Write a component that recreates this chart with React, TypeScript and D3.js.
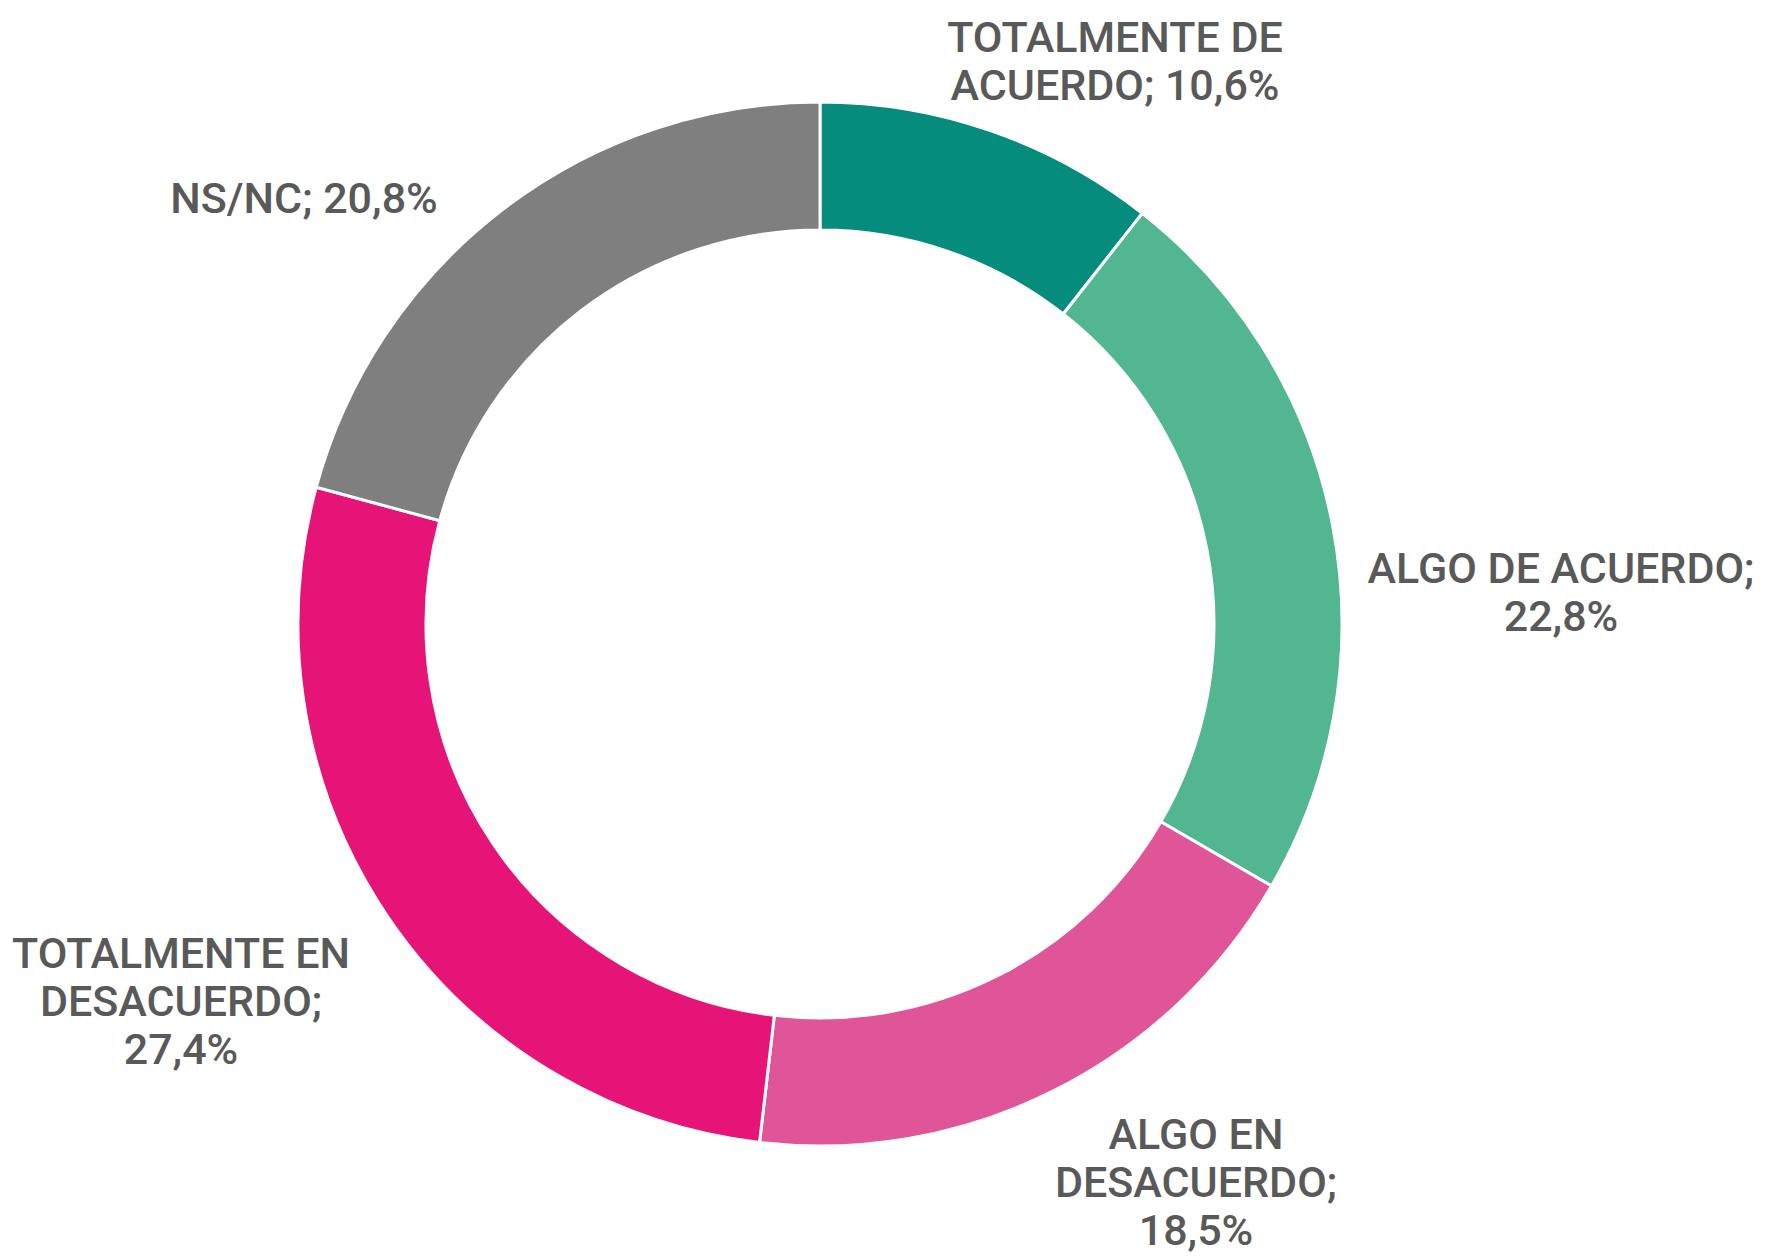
import React from "react";
import * as d3 from "d3";

const categories = [
  "TOTALMENTE DE ACUERDO",
  "ALGO DE ACUERDO",
  "ALGO EN DESACUERDO",
  "TOTALMENTE EN DESACUERDO",
  "NS/NC",
];
const values = [10.6, 22.8, 18.5, 27.4, 20.8];
const valueLabels = ["10,6%", "22,8%", "18,5%", "27,4%", "20,8%"];
const labelLines = [
  ["TOTALMENTE DE", "ACUERDO; 10,6%"],
  ["ALGO DE ACUERDO;", "22,8%"],
  ["ALGO EN", "DESACUERDO;", "18,5%"],
  ["TOTALMENTE EN", "DESACUERDO;", "27,4%"],
  ["NS/NC; 20,8%"],
];
const colors = ["#068C7C", "#52B690", "#E05498", "#E61477", "#7F7F7F"];

const W = 1765;
const H = 1257;
const CX = 820;
const CY = 624;
const R_OUT = 522;
const R_IN = 394;
const LINE_H = 48;

// label anchor: center x and first baseline y (layout only)
const labelAnchors = [
  { x: 1115, y: 52 },
  { x: 1561, y: 583 },
  { x: 1196, y: 1149 },
  { x: 181, y: 968 },
  { x: 304, y: 213 },
];

export default function App() {
  const data = categories.map((c, i) => ({ name: c, value: values[i], label: valueLabels[i] }));
  const pie = d3.pie<any>().value((d) => d.value).sort(null);
  const arcs = pie(data);
  const arc = d3.arc<any>().innerRadius(R_IN).outerRadius(R_OUT);

  return (
    <svg
      width={W}
      height={H}
      style={{ position: "absolute", left: 0, top: 0, background: "#fff" }}
      xmlns="http://www.w3.org/2000/svg"
    >
      <g transform={`translate(${CX},${CY})`}>
        {arcs.map((a, i) => (
          <path key={i} d={arc(a) as string} fill={colors[i]} stroke="#fff" strokeWidth={3} />
        ))}
      </g>
      {labelLines.map((lines, i) => (
        <text
          key={i}
          x={labelAnchors[i].x}
          y={labelAnchors[i].y}
          textAnchor="middle"
          fontFamily="Roboto, 'DejaVu Sans', sans-serif"
          fontSize={43}
          fontWeight={500}
          fill="#595959"
        >
          {lines.map((ln, j) => (
            <tspan key={j} x={labelAnchors[i].x} dy={j === 0 ? 0 : LINE_H}>
              {ln}
            </tspan>
          ))}
        </text>
      ))}
    </svg>
  );
}
